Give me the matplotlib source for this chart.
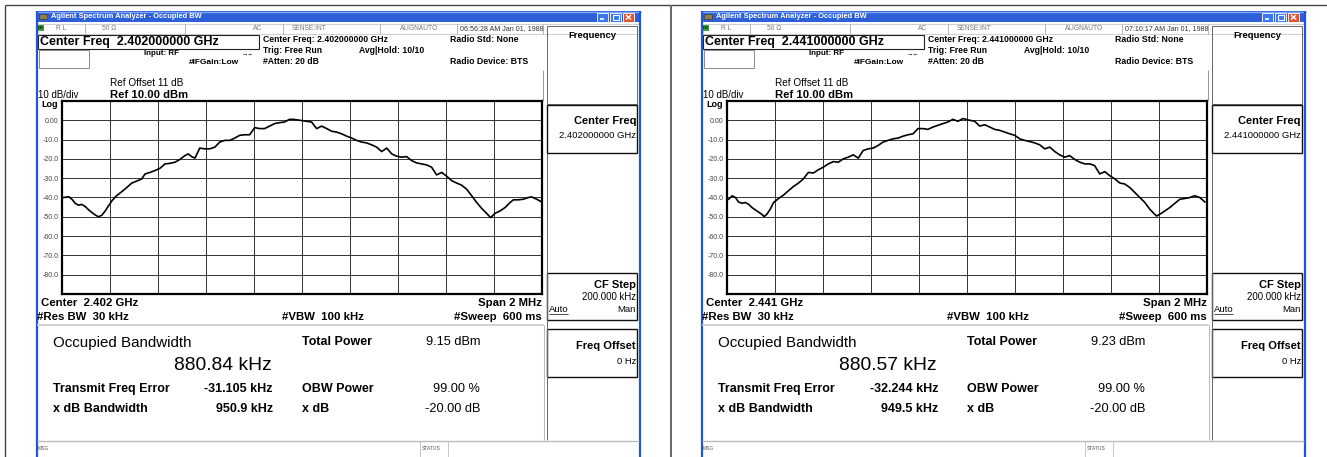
import matplotlib.pyplot as plt
from matplotlib.patches import Rectangle
import numpy as np

plt.rcParams['font.family'] = ['Liberation Sans', 'DejaVu Sans']

# Occupied bandwidth captures, low channel (left) and middle channel (right)
centres = ['2.402000000 GHz', '2.441000000 GHz']
centre_short = ['2.402 GHz', '2.441 GHz']
timestamps = ['06:56:28 AM Jan 01, 1988', '07:10:17 AM Jan 01, 1988']
occ_bw = ['880.84 kHz', '880.57 kHz']
freq_err = ['-31.105 kHz', '-32.244 kHz']
xdb_bw = ['950.9 kHz', '949.5 kHz']
total_pwr = ['9.15 dBm', '9.23 dBm']

level_ticks = [0, -10, -20, -30, -40, -50, -60, -70, -80]
level_labels = ['0.00', '-10.0', '-20.0', '-30.0', '-40.0', '-50.0', '-60.0', '-70.0', '-80.0']

# trace: offset from centre (kHz) / level (dBm)
low_khz = [-993, -972, -958, -945, -931, -917, -903, -889, -875, -862, -848, -834, -820, -806, -792,
           -772, -751, -730, -709, -689, -668, -654, -633, -612, -592, -571, -550, -529, -509, -488,
           -474, -460, -446, -426, -405, -384, -363, -343, -322, -301, -280, -260, -239, -218, -197,
           -177, -156, -135, -114, -93, -73, -52, -36, -8, 19, 40, 61, 82, 103, 124, 144, 165, 186,
           207, 228, 249, 269, 290, 311, 332, 353, 374, 394, 415, 436, 457, 478, 499, 519, 540, 561,
           582, 603, 624, 644, 665, 686, 707, 728, 749, 769, 786, 804, 825, 846, 867, 881, 901, 922,
           943, 957, 978, 999]
low_dbm = [-40.0, -39.6, -41.0, -43.0, -44.0, -43.6, -44.7, -46.4, -47.8, -49.0, -50.0, -49.2, -47.0,
           -44.3, -41.7, -39.0, -37.0, -34.8, -32.5, -31.5, -30.4, -27.8, -27.0, -26.0, -24.9, -22.6,
           -22.3, -21.7, -20.3, -18.3, -17.4, -18.8, -19.6, -14.4, -14.8, -14.8, -13.9, -11.3, -10.4,
           -10.4, -9.2, -7.8, -7.5, -7.5, -3.8, -4.3, -4.3, -3.0, -1.7, -1.2, -0.9, 0.5,
           0.5, 0.0, -0.5, -0.9, -4.3, -3.0, -4.3, -5.7, -6.1, -7.0, -8.2, -9.2, -10.4, -11.3, -11.7,
           -12.7, -13.9, -16.2, -14.4, -17.4, -18.6, -19.1, -18.8, -20.9, -22.1, -22.6, -23.1, -24.3,
           -28.3, -27.0, -29.0, -31.3, -32.5, -33.6, -35.7, -39.1, -42.6, -45.7, -48.2, -50.4, -48.2,
           -47.0, -45.2, -42.6, -41.2, -41.2, -40.9, -40.0, -39.7, -40.9, -42.3]

mid_khz = [-993, -978, -965, -952, -938, -924, -910, -896, -875, -855, -845, -834, -820, -806,
           -785, -765, -744, -723, -702, -682, -661, -640, -619, -599, -578, -557, -536, -516, -495,
           -474, -453, -433, -412, -391, -370, -350, -329, -308, -287, -266, -246, -225, -204, -183,
           -163, -142, -121, -100, -80, -59, -38,
           -17, 11, 32, 53, 74, 95, 115, 136, 157, 178, 199, 220, 240, 261, 282, 303, 324, 345, 366,
           386, 407, 428, 449, 470, 491, 512, 532, 553, 574, 595, 616, 637, 657, 678, 699, 720, 741,
           762, 778, 790, 803, 824, 845, 866, 887, 908, 929, 949, 970, 991]
mid_dbm = [-40.9, -39.1, -40.0, -42.3, -43.0, -42.6, -43.5, -45.2, -47.0, -48.7, -49.9, -48.7, -46.1,
           -42.6, -40.5, -38.8, -36.5, -34.3, -32.5, -30.4, -27.0, -27.3, -25.6, -24.3, -22.6, -21.4,
           -21.7, -20.0, -19.1, -17.9, -19.6, -15.7, -14.8, -14.4, -13.0, -11.3, -10.4, -9.6, -9.2,
           -8.2, -7.5, -7.0, -4.3, -4.3, -4.7, -3.5, -2.6, -1.7, -0.9, 0.5, -0.5,
           0.9, 0.0, -0.5, -3.0, -2.3, -3.5, -4.7, -5.2, -6.1, -7.0, -7.8, -9.6, -10.4, -11.0, -11.7,
           -12.7, -14.8, -13.9, -16.2, -17.9, -19.1, -18.3, -20.3, -21.7, -22.6, -22.6, -23.5, -27.8,
           -26.6, -28.7, -30.4, -32.5, -33.0, -34.8, -37.4, -40.0, -42.6, -46.1, -48.2, -49.6, -48.7,
           -47.0, -45.2, -43.0, -40.9, -40.5, -40.0, -39.1, -40.0, -42.3]

traces = [(low_khz, low_dbm), (mid_khz, mid_dbm)]

W, H = 1327, 457
fig = plt.figure(figsize=(W / 100, H / 100), dpi=100)
bg = fig.add_axes([0, 0, 1, 1])
bg.set_xlim(0, W)
bg.set_ylim(H, 0)
bg.set_axis_off()


def t(x, y, s, size, bold=True, ha='left', color='black'):
    bg.text(x, y, s, fontsize=size, fontweight='bold' if bold else 'normal',
            ha=ha, va='center', color=color, zorder=5)


def rect(x0, y0, x1, y1, fc='none', ec='black', lw=0.8, z=2):
    bg.add_patch(Rectangle((x0, y0), x1 - x0, y1 - y0, facecolor=fc,
                           edgecolor=ec, linewidth=lw, zorder=z))


def line(xs, ys, color='black', lw=0.8, z=3):
    bg.plot(xs, ys, color=color, lw=lw, zorder=z, solid_capstyle='butt')


# table borders
line([5, 5], [5, H], '#444444', 1.0)
line([5, W], [5, 5], '#444444', 1.0)
line([671, 671], [5, H], '#666666', 1.4)


def screen(i, dx):
    # title bar
    rect(36 + dx, 11, 641 + dx, 22, fc='#2c5fd8', ec='none')
    line([36 + dx, 641 + dx], [11.5, 11.5], '#7ea6f2', 1.0)
    rect(39 + dx, 14, 47 + dx, 19, fc='#8f7d4e', ec='#333333', lw=0.4)
    t(51 + dx, 16.5, 'Agilent Spectrum Analyzer - Occupied BW', 5.4, color='white')
    for bx, c in [(597, '#3b78f0'), (610, '#3b78f0'), (623, '#e2572d')]:
        rect(bx + dx, 13, bx + 11 + dx, 21.5, fc=c, ec='white', lw=0.6, z=3)
    line([599.5 + dx, 603.5 + dx], [19.2, 19.2], 'white', 1.2, z=4)
    rect(612.5 + dx, 15, 618.5 + dx, 19.5, ec='white', lw=0.8, z=4)
    line([626 + dx, 631 + dx], [15, 19.5], 'white', 1.0, z=4)
    line([626 + dx, 631 + dx], [19.5, 15], 'white', 1.0, z=4)

    # window frame
    line([36.8 + dx] * 2, [11, H], '#1f55d8', 1.6)
    line([640 + dx] * 2, [11, H], '#1f55d8', 1.6)

    # status row
    rect(38 + dx, 23.5, 639 + dx, 33.5, ec='#bbbbbb', lw=0.5)
    for sx in [85, 185, 283, 380, 457, 543]:
        line([sx + dx] * 2, [23.5, 33.5], '#aaaaaa', 0.6)
    rect(38 + dx, 24.5, 44 + dx, 31, fc='#3ca03c', ec='none', z=3)
    t(41 + dx, 28, 'LXI', 2.6, ha='center')
    t(56 + dx, 28.5, 'R L', 4.8, bold=False, color='#777777')
    t(102 + dx, 28.5, '50 Ω', 4.8, bold=False, color='#777777')
    t(253 + dx, 28.5, 'AC', 4.8, bold=False, color='#777777')
    t(292 + dx, 28.5, 'SENSE:INT', 4.8, bold=False, color='#777777')
    t(400 + dx, 28.5, 'ALIGNAUTO', 4.8, bold=False, color='#777777')
    t(460 + dx, 28.5, timestamps[i], 5.1, bold=False, color='#333333')

    # centre frequency entry
    rect(38 + dx, 35, 259 + dx, 49, ec='#222222', lw=0.8)
    t(40 + dx, 42.3, 'Center Freq  ' + centres[i], 9)
    rect(39 + dx, 50, 89 + dx, 68, ec='#777777', lw=0.6)
    t(144 + dx, 53.5, 'Input: RF', 5.8)
    t(248 + dx, 53.5, '→←', 4.5, ha='center')
    t(189 + dx, 62.5, '#IFGain:Low', 6.0)
    t(263 + dx, 40, 'Center Freq: ' + centres[i], 6.2)
    t(263 + dx, 50.5, 'Trig: Free Run', 6.2)
    t(263 + dx, 61, '#Atten: 20 dB', 6.2)
    t(359 + dx, 50.5, 'Avg|Hold: 10/10', 6.2)
    t(450 + dx, 40, 'Radio Std: None', 6.3)
    t(450 + dx, 61.5, 'Radio Device: BTS', 6.3)
    line([543 + dx] * 2, [70, 100], '#888888', 0.6)

    # reference level
    t(110 + dx, 83, 'Ref Offset 11 dB', 7.2, bold=False)
    t(110 + dx, 94.5, 'Ref 10.00 dBm', 8.1)
    t(38 + dx, 95.5, '10 dB/div', 7.0, bold=False)
    t(41 + dx, 104.8, 'Log', 6.5)

    # softkey panel
    rect(547 + dx, 26, 637 + dx, 104, ec='#666666', lw=0.7)
    t(592 + dx, 36, 'Frequency', 6.8, ha='center')
    rect(547 + dx, 105, 637 + dx, 153, ec='#111111', lw=1.0)
    t(636 + dx, 121, 'Center Freq', 8.0, ha='right')
    t(636 + dx, 136, centres[i], 6.8, bold=False, ha='right')
    line([547 + dx] * 2, [153, 440], '#666666', 0.7)
    rect(547 + dx, 273, 637 + dx, 320, ec='#111111', lw=1.0)
    t(636 + dx, 285, 'CF Step', 8.0, ha='right')
    t(636 + dx, 297, '200.000 kHz', 6.9, bold=False, ha='right')
    t(549 + dx, 309, 'Auto', 6.8, bold=False)
    line([549 + dx, 568 + dx], [313.5, 313.5], 'black', 0.5)
    t(636 + dx, 309, 'Man', 6.8, bold=False, ha='right')
    rect(547 + dx, 329, 637 + dx, 377, ec='#111111', lw=1.0)
    t(636 + dx, 346, 'Freq Offset', 8.0, ha='right')
    t(636 + dx, 361, '0 Hz', 6.8, bold=False, ha='right')

    # sweep settings under the graticule
    t(41 + dx, 303, 'Center  ' + centre_short[i], 8.2)
    t(37 + dx, 316.5, '#Res BW  30 kHz', 8.2)
    t(282 + dx, 316.5, '#VBW  100 kHz', 8.2)
    t(542 + dx, 302.5, 'Span 2 MHz', 8.2, ha='right')
    t(542 + dx, 316.5, '#Sweep  600 ms', 8.2, ha='right')

    # measurement results
    line([37 + dx, 544 + dx], [325, 325], '#cccccc', 1.2)
    line([544 + dx] * 2, [325, 440], '#bbbbbb', 0.8)
    line([37 + dx, 639 + dx], [441, 441], '#bbbbbb', 1.0)
    t(53 + dx, 343.5, 'Occupied Bandwidth', 10.9, bold=False)
    t(272 + dx, 365.5, occ_bw[i], 13.9, bold=False, ha='right')
    t(53 + dx, 389, 'Transmit Freq Error', 9.0)
    t(273 + dx, 389, freq_err[i], 9.0, ha='right')
    t(53 + dx, 409.5, 'x dB Bandwidth', 9.0)
    t(273 + dx, 409.5, xdb_bw[i], 9.0, ha='right')
    t(302 + dx, 342, 'Total Power', 9.0)
    t(480 + dx, 342, total_pwr[i], 9.2, bold=False, ha='right')
    t(302 + dx, 389, 'OBW Power', 9.0)
    t(480 + dx, 389, '99.00 %', 9.2, bold=False, ha='right')
    t(302 + dx, 409.5, 'x dB', 9.0)
    t(480 + dx, 409.5, '-20.00 dB', 9.2, bold=False, ha='right')

    # message bar
    t(38 + dx, 449, 'MSG', 3.6, bold=False, color='#555555')
    line([420 + dx] * 2, [441, H], '#bbbbbb', 0.6)
    line([448 + dx] * 2, [441, H], '#bbbbbb', 0.6)
    t(422 + dx, 449, 'STATUS', 3.6, bold=False, color='#555555')

    # graticule and trace
    ax = fig.add_axes([(62 + dx) / W, 1 - 294 / H, 480 / W, 193 / H])
    ax.set_xlim(-1000, 1000)
    ax.set_ylim(-90, 10)
    ax.set_xticks(np.arange(-1000, 1001, 200))
    ax.set_yticks(level_ticks)
    ax.set_yticklabels(level_labels)
    ax.grid(True, color='#333333', lw=0.7)
    ax.tick_params(length=0, labelbottom=False, labelsize=5.0, labelcolor='#444444', pad=2.5)
    for s in ax.spines.values():
        s.set_linewidth(1.6)
    khz, dbm = traces[i]
    ax.plot(khz, dbm, color='black', lw=1.2)


screen(0, 0)
screen(1, 665)

fig.savefig('out.png', dpi=100)
